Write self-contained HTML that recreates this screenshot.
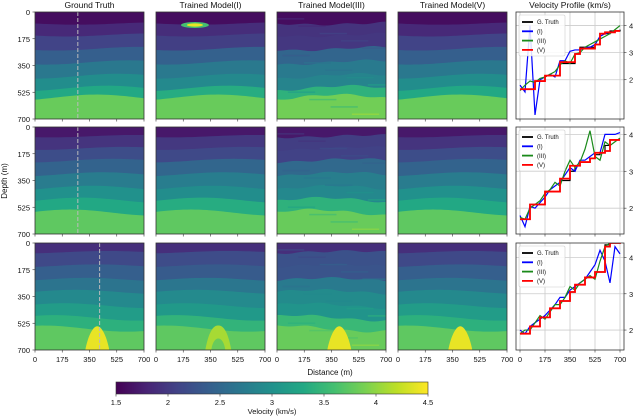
<!DOCTYPE html>
<html><head><meta charset="utf-8">
<style>
html,body{margin:0;padding:0;background:#fff;}
svg{display:block;font-family:"Liberation Sans",sans-serif;}
</style></head>
<body>
<svg id="fig" width="640" height="417" viewBox="0 0 640 417"></svg>
<script>
// ---- data ----
const columnTitles = ["Ground Truth","Trained Model(I)","Trained Model(III)","Trained Model(V)","Velocity Profile (km/s)"];
const depthTicks = [0,175,350,525,700];
const distTicks = [0,175,350,525,700];
const cbTicks = [1.5,2,2.5,3,3.5,4,4.5];
// layer velocities (shallow to deep) per row
const layerVel1 = [1.6,1.85,2.1,2.4,2.7,2.95,3.3,3.8];
const layerDepth1 = [75,150,240,330,420,500,560];
const layerVel2 = [1.7,1.95,2.2,2.45,2.75,3.0,3.3,3.75];
const layerVel3 = [1.9,2.15,2.4,2.65,2.9,3.15,3.4,3.75];
const layerDepth2 = [60,140,220,310,400,480,560];
const layerDepth3 = [60,150,240,320,410,490,560];
const wellPos = [275,275,415];
// profiles: depth sample points
const profDepth = [0,35,70,105,140,175,210,245,280,315,350,385,420,455,490,525,560,595,630,665,700];
const gt1 = [1.65,1.65,1.65,1.95,1.95,2.15,2.15,2.15,2.6,2.6,2.6,2.95,3.2,3.2,3.2,3.3,3.7,3.7,3.8,3.8,3.85];
const m1_1 = [1.8,1.55,4.0,0.7,2.0,2.1,2.2,2.1,2.7,2.7,3.05,3.1,3.1,3.2,3.2,3.3,3.6,3.7,3.75,3.8,3.8];
const m3_1 = [1.6,1.8,1.95,1.9,2.05,2.1,2.2,2.3,2.55,2.7,2.6,2.95,3.0,3.2,3.3,3.4,3.5,3.6,3.7,3.85,4.0];
const m5_1 = [1.65,1.65,1.65,1.95,1.95,2.15,2.15,2.15,2.65,2.65,2.65,2.95,3.15,3.15,3.15,3.3,3.7,3.75,3.75,3.8,3.8];
const gt2 = [1.7,1.7,2.1,2.1,2.1,2.45,2.45,2.45,2.75,2.75,3.0,3.15,3.25,3.25,3.35,3.45,3.5,3.7,3.85,3.85,3.85];
const m1_2 = [1.8,1.5,2.05,2.0,2.15,2.3,2.5,2.6,2.7,2.9,3.1,3.0,3.3,3.3,3.4,3.5,3.5,4.0,4.0,4.0,4.05];
const m3_2 = [1.75,1.7,2.0,2.1,2.2,2.4,2.5,2.7,2.6,3.0,3.3,3.1,3.25,3.6,4.1,3.4,3.3,3.8,3.7,3.8,3.9];
const m5_2 = [1.7,1.7,2.1,2.1,2.1,2.45,2.45,2.45,2.8,2.8,3.15,3.15,3.25,3.25,3.35,3.5,3.5,3.55,3.85,3.85,3.85];
const gt3 = [1.9,1.9,2.1,2.1,2.35,2.35,2.6,2.6,2.8,2.8,3.05,3.25,3.25,3.45,3.45,3.6,3.6,4.35,4.4,4.4,4.45];
const m1_3 = [2.0,1.9,2.1,2.2,2.3,2.4,2.55,2.7,2.9,2.9,3.1,3.2,3.3,3.4,3.6,3.8,4.2,3.9,3.3,4.3,4.1];
const m3_3 = [1.9,2.0,2.0,2.2,2.4,2.3,2.5,2.7,2.7,2.9,3.2,3.1,3.3,3.4,3.5,3.4,3.9,4.3,4.4,4.5,4.5];
const m5_3 = [1.9,1.9,2.1,2.1,2.35,2.35,2.6,2.6,2.8,2.8,3.05,3.25,3.25,3.45,3.45,3.6,3.6,4.3,4.4,4.4,4.45];
const velRange = [[0.55,4.5],[1.3,4.2],[1.45,4.4]];
const velTicks = [2,3,4];
// ---- rendering ----
const NS="http://www.w3.org/2000/svg";
const svg=document.getElementById('fig');
function mk(tag,attrs,parent){const e=document.createElementNS(NS,tag);for(const k in attrs)e.setAttribute(k,attrs[k]);(parent||svg).appendChild(e);return e;}
const vstops=["#440154","#482475","#414487","#355f8d","#2a788e","#21918c","#22a884","#44bf70","#7ad151","#bddf26","#fde725"];
function hex(h){return [1,3,5].map(i=>parseInt(h.substr(i,2),16));}
function viridis(v){let t=Math.max(0,Math.min(1,(v-1.5)/3))*10;const i=Math.min(9,Math.floor(t)),f=t-i;const a=hex(vstops[i]),b=hex(vstops[i+1]);return "rgb("+a.map((c,j)=>Math.round(c+(b[j]-c)*f)).join(",")+")";}
const colX=[35,156,277,398], PW=109, PH=107, rowY=[12,127,243];
const profX=516, profW=108;
const rowLayers=[[layerVel1,layerDepth1],[layerVel2,layerDepth2],[layerVel3,layerDepth3]];
const profs=[[gt1,m1_1,m3_1,m5_1],[gt2,m1_2,m3_2,m5_2],[gt3,m1_3,m3_3,m5_3]];
const defs=mk('defs',{});
columnTitles.forEach((t,i)=>{const cx=i<4?colX[i]+PW/2:profX+profW/2;const e=mk('text',{x:cx,y:8,'font-size':8.5,'text-anchor':'middle',fill:'#111'});e.textContent=t;});
for(let r=0;r<3;r++){
  const [vels,deps]=rowLayers[r];
  for(let c=0;c<4;c++){
    const x0=colX[c],y0=rowY[r];
    const g=mk('g',{});
    
    
    const cp=mk('clipPath',{id:'cp'+r+c},defs);mk('rect',{x:x0,y:y0,width:PW,height:PH},cp);
    g.setAttribute('clip-path','url(#cp'+r+c+')');
    const sy=d=>y0+d/700*PH, sx=d=>x0+d/700*PW;
    const jitter=(c==2)?0.12:(c==1?0.05:0);
    mk('rect',{x:x0,y:y0,width:PW,height:PH,fill:viridis(vels[vels.length-1]+(c==2?0.05:0))},g);
    for(let k=deps.length-1;k>=0;k--){
      let pts=[[x0,y0]];
      for(let s=0;s<=28;s++){const xd=s*25;const dd=deps[k]+(8+k*2)*Math.sin(xd/700*Math.PI*1.3+r+k*0.4)+ (c==2?6*Math.sin(xd/40+k):0);pts.push([sx(xd),sy(dd)]);}
      pts.push([x0+PW,y0]);
      mk('polygon',{points:pts.map(p=>p.join(',')).join(' '),fill:viridis(vels[k]+jitter*Math.sin(k*2.3))},g);
    }
    if(c==2){for(let s=0;s<14;s++){mk('rect',{x:sx((s*137)%650),y:sy(40+s*48),width:PW*0.25,height:1.5,fill:viridis(vels[Math.min(7,Math.floor(s/1.8))]+0.25),opacity:0.7},g);}}
    if(r==0&&c==1){mk('ellipse',{cx:sx(250),cy:sy(85),rx:14,ry:3,fill:viridis(3.6)},g);mk('ellipse',{cx:sx(250),cy:sy(85),rx:8,ry:1.6,fill:viridis(4.4)},g);}
    if(r==2){const cx=sx(400);
      if(c==1){mk('path',{d:`M${cx-13},${y0+PH} C${cx-9},${sy(560)} ${cx-4},${sy(540)} ${cx},${sy(540)} C${cx+4},${sy(540)} ${cx+9},${sy(560)} ${cx+13},${y0+PH} Z`,fill:viridis(4.1)},g);
        mk('path',{d:`M${cx-7},${y0+PH} C${cx-5},${sy(600)} ${cx+5},${sy(600)} ${cx+7},${y0+PH} Z`,fill:viridis(3.8)},g);}
      else mk('path',{d:`M${cx-12},${y0+PH} C${cx-9},${sy(600)} ${cx-4},${sy(545)} ${cx},${sy(545)} C${cx+4},${sy(545)} ${cx+9},${sy(600)} ${cx+12},${y0+PH} Z`,fill:viridis(4.4)},g);}
    if(c==0){mk('line',{x1:sx(wellPos[r]),x2:sx(wellPos[r]),y1:y0,y2:y0+PH,stroke:'#bbb','stroke-width':1,'stroke-dasharray':'4,2'},g);}
    mk('rect',{x:x0,y:y0,width:PW,height:PH,fill:'none',stroke:'#333','stroke-width':0.8});
    distTicks.forEach(t=>{mk('line',{x1:sx(t),x2:sx(t),y1:y0+PH,y2:y0+PH+2.5,stroke:'#333','stroke-width':0.6});
      if(r==2){const e=mk('text',{x:sx(t),y:y0+PH+12,'font-size':7.5,'text-anchor':'middle',fill:'#111'});e.textContent=t;}});
    if(c==0){depthTicks.forEach(t=>{mk('line',{x1:x0-2.5,x2:x0,y1:sy(t),y2:sy(t),stroke:'#333','stroke-width':0.6});
      const e=mk('text',{x:x0-5,y:sy(t)+3,'font-size':7.5,'text-anchor':'end',fill:'#111'});e.textContent=t;});}
  }
  const y0=rowY[r],[vmin,vmax]=velRange[r];
  const px=d=>profX+4+d/700*(profW-8), py=v=>y0+PH-(v-vmin)/(vmax-vmin)*PH;
  const pg=mk('g',{});
  
  
  mk('rect',{x:profX,y:y0,width:profW,height:PH,fill:'#fff'},pg);
  const pcp=mk('clipPath',{id:'pc'+r},defs);mk('rect',{x:profX,y:y0,width:profW,height:PH},pcp);
  distTicks.forEach(t=>{mk('line',{x1:px(t),x2:px(t),y1:y0,y2:y0+PH,stroke:'#ccc','stroke-width':0.8},pg);
    mk('line',{x1:px(t),x2:px(t),y1:y0+PH,y2:y0+PH+2.5,stroke:'#333','stroke-width':0.6},pg);
    if(r==2){const e=mk('text',{x:px(t),y:y0+PH+12,'font-size':7.5,'text-anchor':'middle',fill:'#111'});e.textContent=t;}});
  velTicks.forEach(v=>{mk('line',{x1:profX,x2:profX+profW,y1:py(v),y2:py(v),stroke:'#ccc','stroke-width':0.8},pg);
    mk('line',{x1:profX+profW,x2:profX+profW+2.5,y1:py(v),y2:py(v),stroke:'#333','stroke-width':0.6},pg);
    const e=mk('text',{x:profX+profW+5,y:py(v)+3,'font-size':7.5,fill:'#111'});e.textContent=v;});
  const colors=['#000','#0000ff','#1a8a1a','#ff0000'], widths=[1.2,1.2,1.2,1.8];
  const lg=mk('g',{'clip-path':'url(#pc'+r+')'},pg);
  [0,1,2,3].forEach(s=>{const arr=profs[r][s];let d='';
    if(s==0||s==3){arr.forEach((v,i)=>{d+=(i==0?'M':'L')+px(profDepth[i])+','+py(v);if(i<arr.length-1)d+='L'+px(profDepth[i+1])+','+py(v);});}
    else arr.forEach((v,i)=>{d+=(i==0?'M':'L')+px(profDepth[i])+','+py(v);});
    const p=mk('path',{d:d,fill:'none',stroke:colors[s],'stroke-width':widths[s]},lg);
    
    });
  const leg=mk('g',{},pg);
  
  
  mk('rect',{x:profX+3,y:y0+3,width:46,height:41,fill:'#fff','fill-opacity':0.85,stroke:'#ccc','stroke-width':0.6,rx:1.5},leg);
  ['G. Truth','(I)','(III)','(V)'].forEach((t,i)=>{const yy=y0+10+i*9.3;mk('line',{x1:profX+6,x2:profX+17,y1:yy,y2:yy,stroke:colors[i],'stroke-width':1.8},leg);
    const e=mk('text',{x:profX+21,y:yy+2.2,'font-size':6,fill:'#111'},leg);e.textContent=t;});
  mk('rect',{x:profX,y:y0,width:profW,height:PH,fill:'none',stroke:'#333','stroke-width':0.8},pg);
}
let e=mk('text',{x:330,y:375,'font-size':8,'text-anchor':'middle',fill:'#111'});e.textContent='Distance (m)';
e=mk('text',{x:0,y:0,'font-size':8,'text-anchor':'middle',fill:'#111',transform:'translate(7,181) rotate(-90)'});e.textContent='Depth (m)';
const cbX=116,cbW=312,cbY=382,cbH=12;
const lgr=mk('linearGradient',{id:'vir',x1:0,x2:1,y1:0,y2:0},defs);
vstops.forEach((c,i)=>mk('stop',{offset:(i/10),'stop-color':c},lgr));
e=mk('rect',{x:cbX,y:cbY,width:cbW,height:cbH,fill:'url(#vir)',stroke:'#333','stroke-width':0.6});
cbTicks.forEach(v=>{const x=cbX+(v-1.5)/3*cbW;mk('line',{x1:x,x2:x,y1:cbY+cbH,y2:cbY+cbH+2.5,stroke:'#333','stroke-width':0.6});
  const t=mk('text',{x:x,y:cbY+cbH+11,'font-size':7.5,'text-anchor':'middle',fill:'#111'});t.textContent=v;});
e=mk('text',{x:cbX+cbW/2,y:414,'font-size':7.5,'text-anchor':'middle',fill:'#111'});e.textContent='Velocity (km/s)';
</script>
</body></html>
